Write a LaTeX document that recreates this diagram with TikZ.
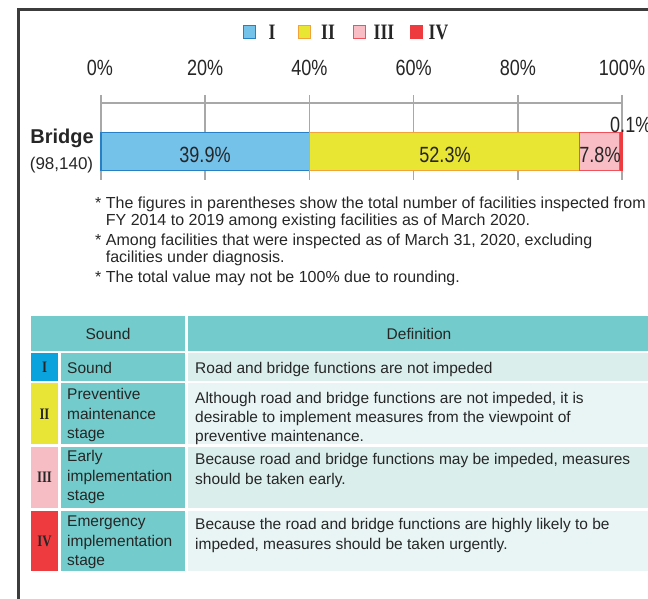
\documentclass[tikz,border=0pt]{standalone}
\usepackage{fontspec}
\setmainfont{Liberation Sans}
\newfontfamily\narrowfont[FakeStretch=0.82]{Liberation Sans}
\newfontfamily\numeralfont[FakeStretch=0.8]{Liberation Serif}
\definecolor{txtdark}{HTML}{262626}
\definecolor{framegray}{HTML}{3C3C3C}
\definecolor{gridgray}{HTML}{A8A8A8}
\definecolor{bluefill}{HTML}{74C1EA}
\definecolor{blueedge}{HTML}{2780C3}
\definecolor{yellowfill}{HTML}{E8E533}
\definecolor{yellowedge}{HTML}{F2A43A}
\definecolor{pinkfill}{HTML}{F9BEC5}
\definecolor{pinkedge}{HTML}{F0525B}
\definecolor{redfill}{HTML}{EE3B40}
\definecolor{cellblue}{HTML}{0AA3DD}
\definecolor{cellyellow}{HTML}{E9E536}
\definecolor{cellpink}{HTML}{F7BDC4}
\definecolor{cellred}{HTML}{EE3B40}
\definecolor{cellteal}{HTML}{73CBCB}
\definecolor{celllight}{HTML}{DAEEEC}
\definecolor{cellpale}{HTML}{E9F5F5}
\begin{document}
\begin{tikzpicture}[x=1pt,y=1pt,yscale=-1,
  axislbl/.style={font=\narrowfont\fontsize{22}{26}\selectfont,text=txtdark,inner sep=0pt,anchor=base},
  numlbl/.style={font=\numeralfont\bfseries\fontsize{22}{26}\selectfont,text=txtdark,inner sep=0pt},
  cellnum/.style={font=\numeralfont\bfseries\fontsize{16}{18}\selectfont,text=txtdark,inner sep=0pt},
  tbltxt/.style={font=\fontsize{15.5}{19.5}\selectfont,text=txtdark,inner sep=0pt,align=left,anchor=base west},
  notetxt/.style={font=\fontsize{16}{17}\selectfont,text=txtdark,inner sep=0pt,align=left,anchor=base west},
  gridln/.style={draw=gridgray,line width=1.5}]
\useasboundingbox (0,0) rectangle (648,599);
% frame
\draw [framegray,line width=2.2] (18.5,620) -- (18.5,9.5) -- (670,9.5) ;
% legend
\draw [draw=blueedge,fill=bluefill,line width=1] (243.5,25.5) rectangle (255.5,38.5) ;
\draw (272,32) node (legI) [numlbl] {I};
\draw [draw=yellowedge,fill=yellowfill,line width=1] (298.5,25.5) rectangle (310.5,38.5) ;
\draw (328,32) node (legII) [numlbl] {II};
\draw [draw=pinkedge,fill=pinkfill,line width=1] (353.5,25.5) rectangle (365.5,38.5) ;
\draw (384,32) node (legIII) [numlbl] {III};
\draw [draw=redfill,fill=redfill,line width=1] (410.5,25.5) rectangle (422.5,38.5) ;
\draw (438.5,32) node (legIV) [numlbl] {IV};
% axis
\draw (100,76) node (ax0) [axislbl] {0\%};
\draw (205.2,76) node (ax20) [axislbl] {20\%};
\draw (309.4,76) node (ax40) [axislbl] {40\%};
\draw (413.6,76) node (ax60) [axislbl] {60\%};
\draw (517.8,76) node (ax80) [axislbl] {80\%};
\draw (622,76) node (ax100) [axislbl] {100\%};
\draw [gridln] (101,103) -- (622,103) ;
\draw [gridln] (101,95) -- (101,180) ;
\draw [gridln] (205.2,95) -- (205.2,180) ;
\draw [gridln] (309.4,95) -- (309.4,180) ;
\draw [gridln] (413.6,95) -- (413.6,180) ;
\draw [gridln] (517.8,95) -- (517.8,180) ;
\draw [gridln] (622,95) -- (622,180) ;
% bar
\draw [draw=blueedge,fill=bluefill,line width=1.3] (101,132.5) rectangle (309.4,170.5) ;
\draw [draw=yellowedge,fill=yellowfill,line width=1.3] (309.4,132.5) rectangle (579.5,170.5) ;
\draw [draw=pinkedge,fill=pinkfill,line width=1.3] (579.5,132.5) rectangle (619.5,170.5) ;
\fill [redfill] (619.5,131.8) rectangle (622.5,171.2) ;
\draw (205,162) node (valI) [axislbl] {39.9\%};
\draw (445,162) node (valII) [axislbl] {52.3\%};
\draw (600,162) node (valIII) [axislbl] {7.8\%};
\draw (610,133) node (valIV) [axislbl,anchor=base west] {0.1\%};
\draw (62,143) node (bridge) [font=\bfseries\fontsize{20}{24}\selectfont,text=txtdark,inner sep=0pt,anchor=base] {Bridge};
\draw (61.5,169) node (count) [font=\fontsize{17}{20}\selectfont,text=txtdark,inner sep=0pt,anchor=base] {(98,140)};
% notes (base = last line)
\draw (95,225) node (note1) [notetxt] {* The figures in parentheses show the total number of facilities inspected from\\\hspace*{10.7pt}FY 2014 to 2019 among existing facilities as of March 2020.};
\draw (95,262.5) node (note2) [notetxt] {* Among facilities that were inspected as of March 31, 2020, excluding\\\hspace*{10.7pt}facilities under diagnosis.};
\draw (95,282.5) node (note3) [notetxt] {* The total value may not be 100\% due to rounding.};
% table cells
\fill [cellteal] (31,316) rectangle (185,351) ;
\fill [cellteal] (188,316) rectangle (670,351) ;
\fill [cellblue] (31,353) rectangle (58,381) ;
\fill [cellteal] (61,353) rectangle (185,381) ;
\fill [celllight] (188,353) rectangle (670,381) ;
\fill [cellyellow] (31,383) rectangle (58,444) ;
\fill [cellteal] (61,383) rectangle (185,444) ;
\fill [cellpale] (188,383) rectangle (670,444) ;
\fill [cellpink] (31,447) rectangle (58,508) ;
\fill [cellteal] (61,447) rectangle (185,508) ;
\fill [celllight] (188,447) rectangle (670,508) ;
\fill [cellred] (31,511) rectangle (58,571) ;
\fill [cellteal] (61,511) rectangle (185,571) ;
\fill [cellpale] (188,511) rectangle (670,571) ;
% table text (base = last line)
\draw (108,339.5) node (hdsound) [tbltxt,anchor=base] {Sound};
\draw (419,339.5) node (hddef) [tbltxt,anchor=base] {Definition};
\draw (44.5,367) node (numI) [cellnum] {I};
\draw (67,373) node (lblI) [tbltxt] {Sound};
\draw (195,373.5) node (defI) [tbltxt] {Road and bridge functions are not impeded};
\draw (44.5,414) node (numII) [cellnum] {II};
\draw (67,438.5) node (lblII) [tbltxt] {Preventive\\maintenance\\stage};
\draw (195,441) node (defII) [tbltxt,font=\fontsize{15.5}{19}\selectfont] {Although road and bridge functions are not impeded, it is\\desirable to implement measures from the viewpoint of\\preventive maintenance.};
\draw (44.5,477.5) node (numIII) [cellnum] {III};
\draw (67,500.5) node (lblIII) [tbltxt] {Early\\implementation\\stage};
\draw (195,484) node (defIII) [tbltxt] {Because road and bridge functions may be impeded, measures\\should be taken early.};
\draw (44.5,541) node (numIV) [cellnum] {IV};
\draw (67,565.5) node (lblIV) [tbltxt] {Emergency\\implementation\\stage};
\draw (195,549) node (defIV) [tbltxt] {Because the road and bridge functions are highly likely to be\\impeded, measures should be taken urgently.};
\end{tikzpicture}
\end{document}
